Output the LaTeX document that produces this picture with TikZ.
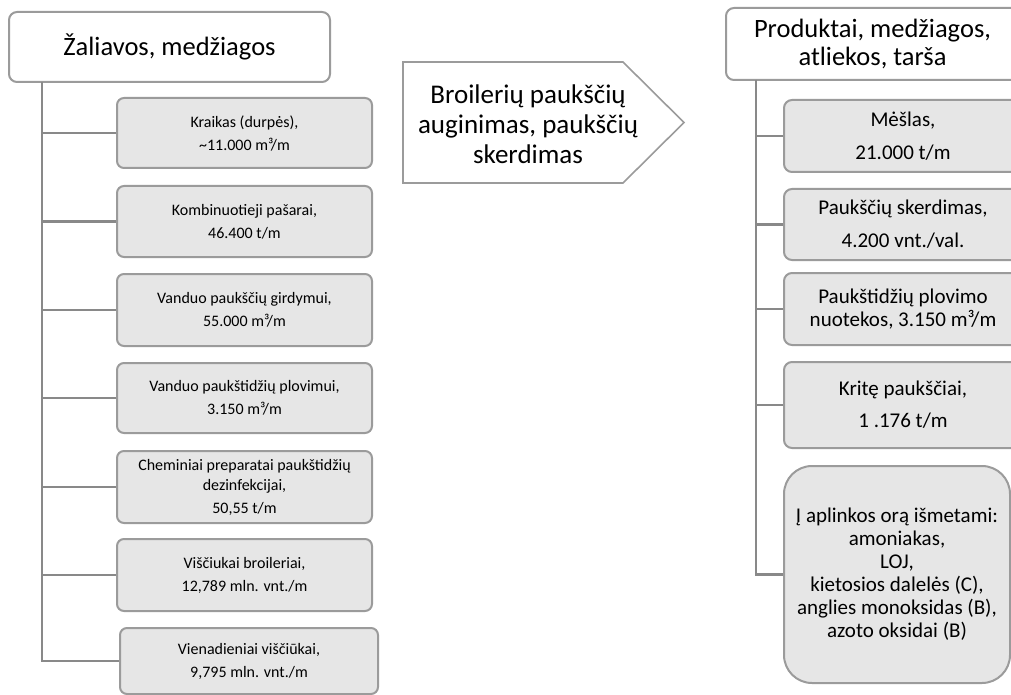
\documentclass[tikz,border=0pt]{standalone}
\usepackage{fontspec}
\setmainfont{Carlito}
\definecolor{bord}{RGB}{155,155,155}
\definecolor{conncol}{RGB}{137,137,137}
\definecolor{boxfill}{RGB}{230,230,230}
\begin{document}
\begin{tikzpicture}[x=1pt,y=-1pt,
  head/.style={draw=bord, line width=2pt, rounded corners=8pt, fill=white, inner sep=0pt, align=center, font=\fontsize{26.5}{28}\selectfont},
  litem/.style={draw=bord, line width=2pt, rounded corners=7pt, fill=boxfill, inner sep=0pt, align=center, minimum width=255pt, font=\fontsize{16}{18}\selectfont},
  ritem/.style={draw=bord, line width=2pt, rounded corners=8pt, fill=boxfill, inner sep=0pt, align=center, minimum width=238pt, font=\fontsize{21}{23}\selectfont},
  proc/.style={draw=bord, line width=1.6pt, fill=white},
  conn/.style={draw=conncol, line width=2.4pt}]
\useasboundingbox (0,0) rectangle (1011,695);
\clip (0,0) rectangle (1011,695);
% left column
\node[head, minimum width=321pt, minimum height=70pt] (lh) at (169.5,47) {Žaliavos, medžiagos};
\node[litem, minimum height=70pt] (b1) at (244.5,133) {Kraikas (durpės),\\[5pt]\textasciitilde 11.000 m³/m};
\node[litem, minimum height=71pt] (b2) at (244.5,221.5) {Kombinuotieji pašarai,\\[5pt]46.400 t/m};
\node[litem, minimum height=72pt] (b3) at (244.5,310) {Vanduo paukščių girdymui,\\[5pt]55.000 m³/m};
\node[litem, minimum height=70pt] (b4) at (244.5,398) {Vanduo paukštidžių plovimui,\\[5pt]3.150 m³/m};
\node[litem, minimum height=72pt] (b5) at (244.5,487) {Cheminiai preparatai paukštidžių\\[2pt]dezinfekcijai,\\[5pt]50,55 t/m};
\node[litem, minimum height=72pt] (b6) at (244.5,575) {Viščiukai broileriai,\\[5pt]12,789 mln. vnt./m};
\node[litem, minimum width=258pt, minimum height=66pt] (b7) at (249,661) {Vienadieniai viščiūkai,\\[5pt]9,795 mln. vnt./m};
\coordinate (lt) at (42,82);
\draw[conn] (lt) |- (b7.west);
\foreach \b in {b1,b2,b3,b4,b5,b6} \draw[conn] (\b.west) -- (\b.west -| lt);
% middle process arrow
\draw[proc] (403,62) -- (623,62) -- (684,122.5) -- (623,183) -- (403,183) -- cycle;
\node[font=\fontsize{27}{30}\selectfont, align=center, inner sep=0pt] (pt) at (528,124) {Broilerių paukščių\\auginimas, paukščių\\skerdimas};
% right column
\node[head, minimum width=293pt, minimum height=72pt] (rh) at (872.5,44) {Produktai, medžiagos,\\atliekos, tarša};
\node[ritem, minimum height=72pt] (r1) at (903,136) {Mėšlas,\\[10pt]21.000 t/m};
\node[ritem, minimum height=71pt] (r2) at (903,224.5) {Paukščių skerdimas,\\[10pt]4.200 vnt./val.};
\node[ritem, minimum height=72pt] (r3) at (903,309) {Paukštidžių plovimo\\nuotekos, 3.150 m³/m};
\node[ritem, minimum height=86pt] (r4) at (903,405) {Kritę paukščiai,\\[9pt]1 .176 t/m};
\node[ritem, rounded corners=28pt, minimum width=226pt, minimum height=217pt] (r5) at (897,574.5) {Į aplinkos orą išmetami:\\amoniakas,\\LOJ,\\kietosios dalelės (C),\\anglies monoksidas (B),\\azoto oksidai (B)};
\coordinate (rt) at (756,80);
\draw[conn] (rt) |- (r5.west);
\foreach \r in {r1,r2,r3,r4} \draw[conn] (\r.west) -- (\r.west -| rt);
\end{tikzpicture}
\end{document}
